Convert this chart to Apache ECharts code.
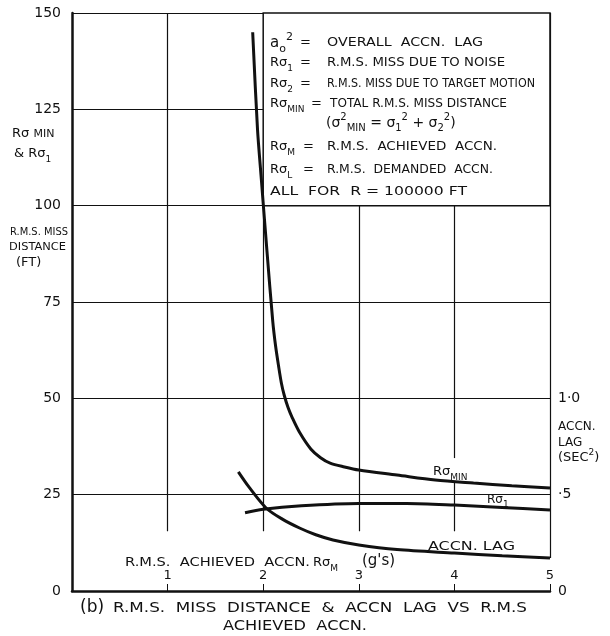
<!DOCTYPE html>
<html>
<head>
<meta charset="utf-8">
<script src="https://cdn.jsdelivr.net/npm/echarts@6/dist/echarts.min.js"></script>
<style>
  html, body { margin: 0; padding: 0; background: #fff; }
  #chart { width: 610px; height: 636px; }
</style>
</head>
<body>
<div id="chart"></div>
<script>
// R.M.S. achieved acceleration (g's) and total R.M.S. miss distance (ft)
const sigmaMinAccn = [1.89, 1.94, 1.98, 2.04, 2.10, 2.13, 2.16, 2.19, 2.22, 2.26, 2.30, 2.38, 2.50, 2.60, 2.70, 2.85, 3.00, 3.40, 3.80, 4.20, 4.60, 5.00];
const sigmaMinMiss = [145, 120, 107, 88, 70, 63.5, 58.5, 54, 50.8, 47.6, 45.2, 41.2, 36.8, 34.6, 33.2, 32.2, 31.4, 30.1, 28.8, 28.0, 27.3, 26.7];

// R.M.S. miss due to noise (ft)
const sigma1Accn = [1.81, 2.00, 2.40, 3.00, 3.50, 4.00, 4.50, 5.00];
const sigma1Miss = [20.3, 21.2, 22.1, 22.7, 22.7, 22.3, 21.7, 21.0];

// overall acceleration lag (sec^2)
const lagAccn = [1.74, 1.85, 2.03, 2.20, 2.38, 2.55, 2.73, 3.00, 3.40, 4.00, 4.50, 5.00];
const lagValue = [0.618, 0.54, 0.431, 0.373, 0.327, 0.292, 0.265, 0.239, 0.215, 0.197, 0.183, 0.171];

// axis ticks
const accnTicks = [0, 1, 2, 3, 4, 5];
const missTicks = [0, 25, 50, 75, 100, 125, 150];
const lagTickLabels = { 0: '0', 0.5: '\u00b75', 1: '1\u00b70' };

const INK = '#111';
const F = '"DejaVu Sans", sans-serif';

const zip = (xs, ys) => xs.map((x, i) => [x, ys[i]]);

// width measurement for lettering that must fill a given span
const measureCtx = document.createElement('canvas').getContext('2d');
function fitScale(text, size, width, weight) {
  measureCtx.font = (weight || 'normal') + ' ' + size + 'px ' + F;
  const w = measureCtx.measureText(text).width;
  return w > 0 ? width / w : 1;
}

function richFor(size) {
  const small = Math.round(size * 0.72);
  return {
    s: { fontSize: small, fontFamily: F, fill: INK, verticalAlign: 'bottom', lineHeight: small },
    p: { fontSize: small, fontFamily: F, fill: INK, verticalAlign: 'top', lineHeight: small },
    m: { fontSize: Math.round(size * 0.82), fontFamily: F, fill: INK }
  };
}

function label(x, y, text, size, opt) {
  opt = opt || {};
  const el = {
    type: 'text',
    x: x,
    y: y,
    silent: true,
    z: 10,
    style: {
      text: text,
      fontSize: size,
      fontFamily: F,
      fontWeight: opt.weight || 'normal',
      fill: INK,
      align: 'left',
      verticalAlign: 'middle',
      lineHeight: Math.round(size * 1.5),
      rich: richFor(size)
    }
  };
  if (opt.width) el.scaleX = fitScale(text, size, opt.width, opt.weight);
  return el;
}

// grid segments drawn in data space (vertical rules stop above the axis caption)
const ruleBottom = 15.5;
const gridSegments = [
  [[1, ruleBottom], [1, 150]],
  [[2, ruleBottom], [2, 100]],
  [[3, ruleBottom], [3, 100]],
  [[4, ruleBottom], [4, 28.3]],
  [[4, 34.5], [4, 100]],
  [[5, lagValue[lagValue.length - 1] * 50], [5, 150]]
].map(s => [{ coord: s[0] }, { coord: s[1] }]);

const chart = echarts.init(document.getElementById('chart'), null, { renderer: 'canvas' });

const curveStyle = { color: INK, width: 3 };

chart.setOption({
  backgroundColor: '#fff',
  animation: false,
  grid: { left: 72, right: 60, top: 13, bottom: 45, containLabel: false },
  xAxis: {
    type: 'value',
    min: accnTicks[0],
    max: accnTicks[accnTicks.length - 1],
    interval: 1,
    axisLine: { show: true, onZero: false, lineStyle: { color: INK, width: 2.5 } },
    axisTick: { show: true, inside: true, length: 7, lineStyle: { color: INK, width: 1 } },
    axisLabel: {
      inside: true, margin: 9, color: INK, fontSize: 13, fontFamily: F,
      formatter: v => (v === 0 ? '' : String(v))
    },
    splitLine: { show: false }
  },
  yAxis: [
    {
      type: 'value',
      min: missTicks[0],
      max: missTicks[missTicks.length - 1],
      interval: 25,
      axisLine: { show: true, lineStyle: { color: INK, width: 2.5 } },
      axisTick: { show: false },
      axisLabel: { margin: 11, color: INK, fontSize: 14, fontFamily: F },
      splitLine: { show: true, lineStyle: { color: INK, width: 1.2 } }
    },
    {
      type: 'value',
      position: 'right',
      min: 0,
      max: 3,
      interval: 0.5,
      axisLine: { show: false },
      axisTick: { show: false },
      splitLine: { show: false },
      axisLabel: {
        margin: 8, color: INK, fontSize: 14, fontFamily: F,
        formatter: v => lagTickLabels[v] || ''
      }
    }
  ],
  series: [
    {
      name: 'frame',
      type: 'line',
      data: [],
      silent: true,
      z: 1,
      markArea: {
        silent: true,
        z: 1,
        itemStyle: { color: '#fff', opacity: 1, borderColor: INK, borderWidth: 1.5 },
        data: [[{ coord: [2, 100] }, { coord: [5, 150] }]]
      },
      markLine: {
        silent: true,
        z: 1,
        symbol: ['none', 'none'],
        label: { show: false },
        lineStyle: { color: INK, width: 1.2, type: 'solid' },
        emphasis: { disabled: true },
        data: gridSegments
      }
    },
    {
      name: 'R\u03c3 MIN',
      type: 'line',
      z: 3,
      data: zip(sigmaMinAccn, sigmaMinMiss),
      showSymbol: false,
      smooth: 0.3,
      lineStyle: curveStyle
    },
    {
      name: 'R\u03c3 1',
      type: 'line',
      z: 3,
      data: zip(sigma1Accn, sigma1Miss),
      showSymbol: false,
      smooth: 0.3,
      lineStyle: curveStyle
    },
    {
      name: 'ACCN. LAG',
      type: 'line',
      z: 3,
      yAxisIndex: 1,
      data: zip(lagAccn, lagValue),
      showSymbol: false,
      smooth: 0.3,
      lineStyle: curveStyle
    }
  ],
  graphic: [
    // key inside the boxed panel
    label(270, 43, 'a{s|o}{p|2}', 15),
    label(300, 43, '=', 13),
    label(327, 43, 'OVERALL  ACCN.  LAG', 13, { width: 156 }),
    label(270, 63, 'R\u03c3{s|1}', 13),
    label(300, 63, '=', 13),
    label(327, 63, 'R.M.S. MISS DUE TO NOISE', 13, { width: 178 }),
    label(270, 84, 'R\u03c3{s|2}', 13),
    label(300, 84, '=', 13),
    label(327, 84, 'R.M.S. MISS DUE TO TARGET MOTION', 13, { width: 208 }),
    label(270, 104, 'R\u03c3{s|MIN}', 13),
    label(311, 104, '=', 13),
    label(330, 104, 'TOTAL R.M.S. MISS DISTANCE', 13, { width: 177 }),
    label(326, 123, '(\u03c3{p|2}{s|MIN} = \u03c3{s|1}{p|2} + \u03c3{s|2}{p|2})', 14),
    label(270, 147, 'R\u03c3{s|M}', 13),
    label(303, 147, '=', 13),
    label(327, 147, 'R.M.S.  ACHIEVED  ACCN.', 13, { width: 170 }),
    label(270, 170, 'R\u03c3{s|L}', 13),
    label(303, 170, '=', 13),
    label(327, 170, 'R.M.S.  DEMANDED  ACCN.', 13, { width: 166 }),
    label(270, 192, 'ALL  FOR  R = 100000 FT', 13, { width: 197 }),

    // left axis title
    label(12, 134, 'R\u03c3 {m|MIN}', 13),
    label(14, 154, '& R\u03c3{s|1}', 13),
    label(10, 232, 'R.M.S. MISS', 10, { width: 58 }),
    label(9, 247, 'DISTANCE', 10, { width: 57 }),
    label(16, 263, '(FT)', 13),

    // right axis title
    label(558, 427, 'ACCN.', 12),
    label(558, 443, 'LAG', 12),
    label(558, 458, '(SEC{p|2})', 13),

    // curve labels
    label(433, 472, 'R\u03c3{s|MIN}', 13),
    label(487, 500, 'R\u03c3{s|1}', 12),
    label(428, 547, 'ACCN. LAG', 13, { width: 87 }),

    // horizontal axis title
    label(125, 563, 'R.M.S.  ACHIEVED  ACCN.', 12, { width: 185 }),
    label(313, 563, 'R\u03c3{s|M}', 13),
    label(362, 561, "(g's)", 15),

    // caption
    label(80, 608, '(b)', 17),
    label(113, 608, 'R.M.S.  MISS  DISTANCE  &  ACCN  LAG  VS  R.M.S', 14, { width: 414 }),
    label(223, 626, 'ACHIEVED  ACCN.', 14, { width: 144 })
  ]
});
</script>
</body>
</html>
